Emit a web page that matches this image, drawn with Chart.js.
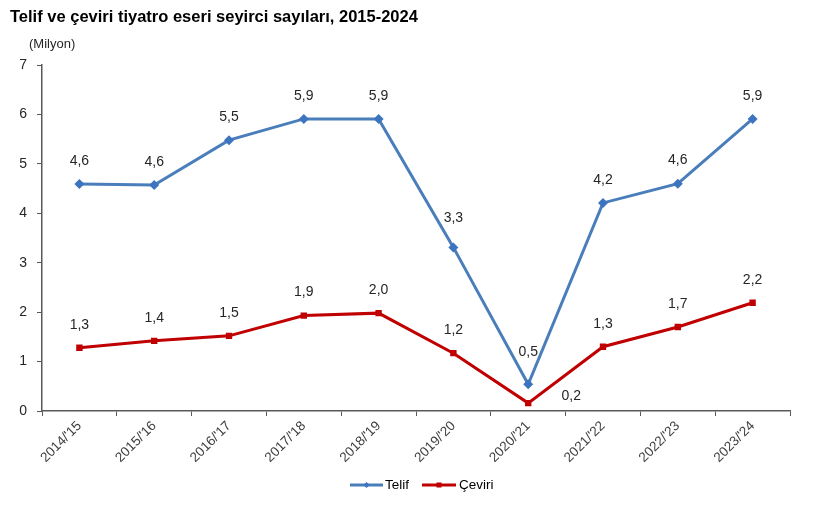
<!DOCTYPE html>
<html>
<head>
<meta charset="utf-8">
<script src="https://cdn.jsdelivr.net/npm/chart.js@4.4.1/dist/chart.umd.min.js"></script>
<style>
html,body{margin:0;padding:0;background:#fff;}
#wrap{position:relative;width:830px;height:510px;}
</style>
</head>
<body>
<div id="wrap"><canvas id="c" width="830" height="510"></canvas></div>
<script>
const categories = ["2014/'15","2015/'16","2016/'17","2017/'18","2018/'19","2019/'20","2020/'21","2021/'22","2022/'23","2023/'24"];
const telif = [4.59, 4.57, 5.48, 5.91, 5.91, 3.31, 0.54, 4.21, 4.60, 5.91];
const ceviri = [1.28, 1.42, 1.52, 1.93, 1.98, 1.17, 0.16, 1.30, 1.70, 2.19];
const yTicks = [0,1,2,3,4,5,6,7];
const titleText = "Telif ve çeviri tiyatro eseri seyirci sayıları, 2015-2024";
const unitText = "(Milyon)";

const FONT = "'Liberation Sans', Arial, sans-serif";
const BLUE = "#4a7ebb";
const BLUE_M = "#3d74c0";
const RED = "#c00000";
const AXIS = "#595959";

function fmt(v){ return v.toFixed(1).replace('.', ','); }

const labelPlugin = {
  id: 'labels',
  afterDatasetsDraw(chart){
    const ctx = chart.ctx;
    ctx.save();
    ctx.font = "14px " + FONT;
    ctx.fillStyle = "#262626";
    ctx.textAlign = 'center';
    ctx.textBaseline = 'middle';
    chart.data.datasets.forEach((ds, di) => {
      const meta = chart.getDatasetMeta(di);
      meta.data.forEach((pt, i) => {
        let dx = 0, dy = -23;
        if (di === 0 && (i === 6)) dy = -32;
        if (di === 0 && (i === 5)) dy = -29;
        if (di === 1 && i === 6) { dx = 43; dy = -7; }
        ctx.fillText(fmt(ds.data[i]), pt.x + dx, pt.y + dy);
      });
    });
    ctx.restore();
  },
  afterDraw(chart){
    const ctx = chart.ctx;
    ctx.save();
    // title
    ctx.font = "bold 16.5px " + FONT;
    ctx.fillStyle = "#000";
    ctx.textAlign = 'left';
    ctx.textBaseline = 'middle';
    ctx.fillText(titleText, 10, 17);
    // unit
    ctx.font = "13px " + FONT;
    ctx.fillStyle = "#262626";
    ctx.fillText(unitText, 29, 44);
    // legend
    const ly = 485;
    ctx.lineWidth = 3;
    ctx.strokeStyle = BLUE;
    ctx.beginPath(); ctx.moveTo(350, ly); ctx.lineTo(383, ly); ctx.stroke();
    ctx.fillStyle = BLUE_M;
    ctx.beginPath(); ctx.moveTo(366.5, ly-3); ctx.lineTo(369.5, ly); ctx.lineTo(366.5, ly+3); ctx.lineTo(363.5, ly); ctx.closePath(); ctx.fill();
    ctx.strokeStyle = RED;
    ctx.beginPath(); ctx.moveTo(422, ly); ctx.lineTo(456, ly); ctx.stroke();
    ctx.fillStyle = RED;
    ctx.fillRect(436.5, ly-2.5, 5, 5);
    ctx.font = "13.5px " + FONT;
    ctx.fillStyle = "#000";
    ctx.textBaseline = 'middle';
    ctx.fillText("Telif", 385, ly);
    ctx.fillText("Çeviri", 459, ly);
    ctx.restore();
  }
};

new Chart(document.getElementById('c'), {
  type: 'line',
  data: {
    labels: categories,
    datasets: [
      { label: 'Telif', data: telif, borderColor: BLUE, backgroundColor: BLUE_M, borderWidth: 3,
        pointStyle: 'rectRot', pointRadius: 5, pointBorderWidth: 0, pointBackgroundColor: BLUE_M, tension: 0 },
      { label: 'Çeviri', data: ceviri, borderColor: RED, backgroundColor: RED, borderWidth: 3,
        pointStyle: 'rect', pointRadius: 4.5, pointBorderWidth: 0, pointBackgroundColor: RED, tension: 0 }
    ]
  },
  options: {
    responsive: false,
    animation: false,
    devicePixelRatio: 1,
    layout: { padding: { left: 0, top: 65, right: 40, bottom: 0 } },
    plugins: { legend: { display: false }, title: { display: false }, tooltip: { enabled: false } },
    scales: {
      x: {
        offset: true,
        grid: { display: true, drawOnChartArea: false, offset: true, tickLength: 5, color: AXIS },
        border: { display: true, color: AXIS, width: 1.5 },
        ticks: { font: { size: 13.5, family: FONT }, color: '#404040', maxRotation: 45, minRotation: 45, padding: 2 },
        afterFit(s){ s.height = 99; }
      },
      y: {
        min: 0, max: 7,
        afterBuildTicks(s){ s.ticks = yTicks.map(v => ({ value: v })); },
        grid: { display: true, drawOnChartArea: false, tickLength: 5, color: AXIS },
        border: { display: true, color: AXIS, width: 1.5 },
        ticks: { font: { size: 14, family: FONT }, color: '#262626', padding: 10 },
        afterFit(s){ s.width = 42; }
      }
    }
  },
  plugins: [labelPlugin]
});
</script>
</body>
</html>
